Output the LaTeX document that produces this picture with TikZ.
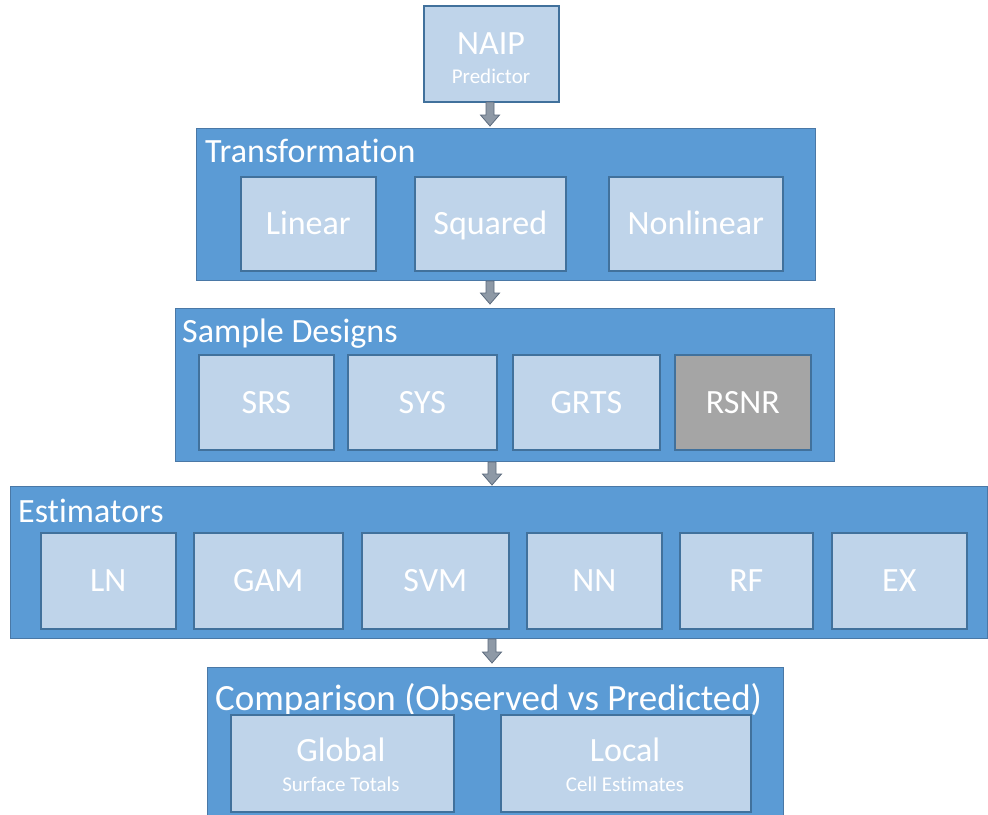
\documentclass[tikz,border=0pt]{standalone}
\usepackage{fontspec}
\setmainfont{Carlito}[Ligatures=NoCommon]
\usetikzlibrary{calc}
\definecolor{outerfill}{HTML}{5B9BD5}
\definecolor{outerdraw}{HTML}{4A78A6}
\definecolor{innerfill}{HTML}{BFD4EA}
\definecolor{innerdraw}{HTML}{41719C}
\definecolor{grayfill}{HTML}{A5A5A5}
\definecolor{arrfill}{HTML}{8E99A6}
\definecolor{arrdraw}{HTML}{5C6B7E}
\tikzset{
  outerbox/.style={draw=outerdraw, fill=outerfill, line width=1.2pt, anchor=north west, inner sep=0pt},
  innerbox/.style={draw=innerdraw, fill=innerfill, line width=1.6pt, anchor=north west, inner sep=0pt, text=white, font=\fontsize{34}{37}\selectfont, align=center, text height=22pt, text depth=0pt},
  titletext/.style={anchor=base west, inner sep=0pt, text=white, font=\fontsize{34}{38}\selectfont},
  subtext/.style={anchor=center, inner sep=0pt, text=white, font=\fontsize{21}{24}\selectfont},
  barrow/.style={draw=arrdraw, fill=arrfill, line width=0.8pt, line join=miter}
}
\newcommand\blockarrow[2]{%
  \draw[barrow] ($(#1)+(-4,0)$) -- ($(#2)+(-4,-11)$) -- ($(#2)+(-9.5,-11)$) -- (#2)
    -- ($(#2)+(9.5,-11)$) -- ($(#2)+(4,-11)$) -- ($(#1)+(4,0)$) -- cycle;}
\begin{document}
\begin{tikzpicture}[x=1pt,y=-1pt]
\useasboundingbox[fill=white] (0,0) rectangle (988,814);
% NAIP
\node[innerbox, minimum width=135pt, minimum height=96pt] (naip) at (423,5) {};
\node[text=white, font=\fontsize{34}{37}\selectfont, inner sep=0pt] (naipt) at (491,44) {NAIP};
\node[subtext] (naips) at (491,76) {Predictor};
% Transformation
\node[outerbox, minimum width=619pt, minimum height=152pt] (trans) at (196,128) {};
\node[titletext] (transt) at (205,162) {Transformation};
\node[innerbox, minimum width=135pt, minimum height=94pt] (lin) at (240,176) {Linear};
\node[innerbox, minimum width=151pt, minimum height=94pt] (sq) at (414,176) {Squared};
\node[innerbox, minimum width=174pt, minimum height=94pt] (nonlin) at (608,176) {Nonlinear};
% Sample designs
\node[outerbox, minimum width=659pt, minimum height=153pt] (samp) at (175,308) {};
\node[titletext] (sampt) at (182,342) {Sample Designs};
\node[innerbox, minimum width=135pt, minimum height=95pt] (srs) at (198,354) {SRS};
\node[innerbox, minimum width=149pt, minimum height=95pt] (sys) at (347,354) {SYS};
\node[innerbox, minimum width=147pt, minimum height=95pt] (grts) at (512,354) {GRTS};
\node[innerbox, fill=grayfill, minimum width=136pt, minimum height=95pt] (rsnr) at (674,354) {RSNR};
% Estimators
\node[outerbox, minimum width=977pt, minimum height=152pt] (est) at (10,486) {};
\node[titletext] (estt) at (18,522) {Estimators};
\node[innerbox, minimum width=135pt, minimum height=96pt] (ln) at (40,532) {LN};
\node[innerbox, minimum width=149pt, minimum height=96pt] (gam) at (193,532) {GAM};
\node[innerbox, minimum width=147pt, minimum height=96pt] (svm) at (361,532) {SVM};
\node[innerbox, minimum width=135pt, minimum height=96pt] (nn) at (526,532) {NN};
\node[innerbox, minimum width=133pt, minimum height=96pt] (rf) at (679,532) {RF};
\node[innerbox, minimum width=135pt, minimum height=96pt] (ex) at (831,532) {EX};
% Comparison
\node[outerbox, minimum width=576pt, minimum height=154pt] (comp) at (207,667) {};
\node[titletext, font=\fontsize{37}{40}\selectfont] (compt) at (215,710) {Comparison (Observed vs Predicted)};
\node[innerbox, minimum width=223pt, minimum height=97pt] (glob) at (230,714) {};
\node[innerbox, minimum width=250pt, minimum height=97pt] (loc) at (500,714) {};
\node[text=white, font=\fontsize{34}{37}\selectfont, inner sep=0pt] (globt) at (341,750) {Global};
\node[subtext] (globs) at (341,784) {Surface Totals};
\node[text=white, font=\fontsize{34}{37}\selectfont, inner sep=0pt] (loct) at (625,750) {Local};
\node[subtext] (locs) at (625,784) {Cell Estimates};
% arrows
\coordinate (a1s) at (490,102);
\coordinate (a1e) at (490,126);
\coordinate (a2s) at (490,281);
\coordinate (a2e) at (490,304);
\coordinate (a3s) at (492,462);
\coordinate (a3e) at (492,485);
\coordinate (a4s) at (492,639);
\coordinate (a4e) at (492,663);
\blockarrow{a1s}{a1e}
\blockarrow{a2s}{a2e}
\blockarrow{a3s}{a3e}
\blockarrow{a4s}{a4e}
\end{tikzpicture}
\end{document}
